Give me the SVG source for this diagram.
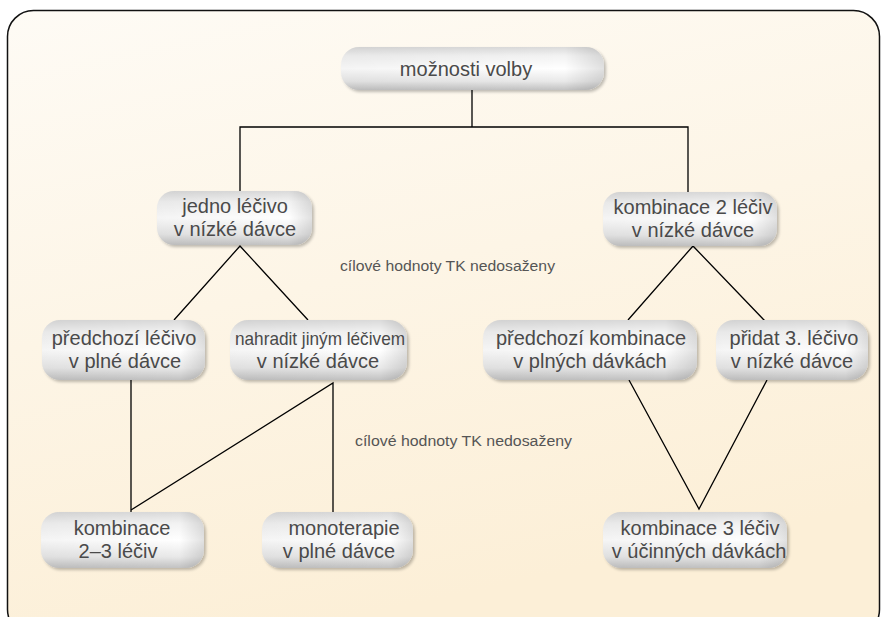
<svg xmlns="http://www.w3.org/2000/svg" width="882" height="617" viewBox="0 0 882 617">
<defs>
<linearGradient id="bg" x1="0" y1="0" x2="0.3" y2="1">
<stop offset="0" stop-color="#fefbf5"/>
<stop offset="1" stop-color="#fcefd7"/>
</linearGradient>
<linearGradient id="pill" x1="0" y1="0" x2="0" y2="1">
<stop offset="0" stop-color="#dadada"/>
<stop offset="0.2" stop-color="#f2f2f2"/>
<stop offset="0.5" stop-color="#ffffff"/>
<stop offset="0.8" stop-color="#e8e8e8"/>
<stop offset="1" stop-color="#c2c2c2"/>
</linearGradient>
<linearGradient id="edge" x1="0" y1="0" x2="1" y2="0">
<stop offset="0" stop-color="#000" stop-opacity="0.04"/>
<stop offset="0.85" stop-color="#000" stop-opacity="0"/>
<stop offset="1" stop-color="#000" stop-opacity="0.12"/>
</linearGradient>
<filter id="sh" x="-10%" y="-20%" width="120%" height="150%">
<feGaussianBlur in="SourceAlpha" stdDeviation="1.5"/>
<feOffset dx="1.5" dy="2" result="b"/>
<feComponentTransfer><feFuncA type="linear" slope="0.25"/></feComponentTransfer>
<feMerge><feMergeNode/><feMergeNode in="SourceGraphic"/></feMerge>
</filter>
</defs>
<style>
.box{fill:url(#pill);filter:url(#sh)}
.ov{fill:url(#edge)}
.t{font-family:"Liberation Sans",Arial,sans-serif;font-size:20px;fill:#4a4a4a;text-anchor:middle}
.lbl{font-family:"Liberation Sans",Arial,sans-serif;font-size:14px;fill:#555}
.c{fill:none;stroke:#000;stroke-width:1.3}
</style>
<rect x="7.5" y="10.5" width="872" height="625" rx="26" fill="url(#bg)" stroke="#111" stroke-width="1.5"/>

<g id="connectors">
<path class="c" d="M472 90 V127 M240 191 V127 H688 V192"/>
<path class="c" d="M174 320 L240 246 L308 320"/>
<path class="c" d="M628 320 L693 246 L765 321"/>
<path class="c" d="M131 380 V512"/>
<path class="c" d="M131 510 L333 383 V512"/>
<path class="c" d="M629 380 L699 509 L767 380"/>
</g>

<text class="lbl" x="340" y="271" textLength="215" lengthAdjust="spacingAndGlyphs">cílové hodnoty TK nedosaženy</text>
<text class="lbl" x="355" y="446" textLength="217" lengthAdjust="spacingAndGlyphs">cílové hodnoty TK nedosaženy</text>

<g id="n1"><rect class="box" x="341" y="47" width="263" height="43" rx="18"/><rect class="ov" x="341" y="47" width="263" height="43" rx="18"/><text class="t" x="466" y="76">možnosti volby</text></g>
<g id="n2"><rect class="box" x="157" y="191" width="155" height="54" rx="17"/><rect class="ov" x="157" y="191" width="155" height="54" rx="17"/><text class="t" x="235" y="213">jedno léčivo</text><text class="t" x="235" y="236">v nízké dávce</text></g>
<g id="n3"><rect class="box" x="603" y="192" width="174" height="54" rx="17"/><rect class="ov" x="603" y="192" width="174" height="54" rx="17"/><text class="t" x="693" y="214">kombinace 2 léčiv</text><text class="t" x="693" y="237">v nízké dávce</text></g>
<g id="n4"><rect class="box" x="42" y="320" width="163" height="60" rx="18"/><rect class="ov" x="42" y="320" width="163" height="60" rx="18"/><text class="t" x="124" y="345">předchozí  léčivo</text><text class="t" x="125" y="368">v plné dávce</text></g>
<g id="n5"><rect class="box" x="230" y="320" width="177" height="60" rx="18"/><rect class="ov" x="230" y="320" width="177" height="60" rx="18"/><text class="t" x="320" y="345" style="font-size:18.5px" textLength="170" lengthAdjust="spacingAndGlyphs">nahradit jiným léčivem</text><text class="t" x="318" y="368">v nízké dávce</text></g>
<g id="n6"><rect class="box" x="483" y="320" width="214" height="60" rx="18"/><rect class="ov" x="483" y="320" width="214" height="60" rx="18"/><text class="t" x="591" y="345">předchozí kombinace</text><text class="t" x="590" y="368">v plných dávkách</text></g>
<g id="n7"><rect class="box" x="716" y="320" width="152" height="60" rx="18"/><rect class="ov" x="716" y="320" width="152" height="60" rx="18"/><text class="t" x="794" y="345">přidat 3. léčivo</text><text class="t" x="792" y="368">v nízké dávce</text></g>
<g id="n8"><rect class="box" x="41" y="512" width="163" height="56" rx="18"/><rect class="ov" x="41" y="512" width="163" height="56" rx="18"/><text class="t" x="122" y="535">kombinace</text><text class="t" x="118" y="558">2–3 léčiv</text></g>
<g id="n9"><rect class="box" x="262" y="512" width="151" height="56" rx="18"/><rect class="ov" x="262" y="512" width="151" height="56" rx="18"/><text class="t" x="344" y="535">monoterapie</text><text class="t" x="339" y="558">v plné dávce</text></g>
<g id="n10"><rect class="box" x="603" y="512" width="184" height="56" rx="18"/><rect class="ov" x="603" y="512" width="184" height="56" rx="18"/><text class="t" x="700" y="535">kombinace 3 léčiv</text><text class="t" x="699" y="558">v účinných dávkách</text></g>
</svg>
